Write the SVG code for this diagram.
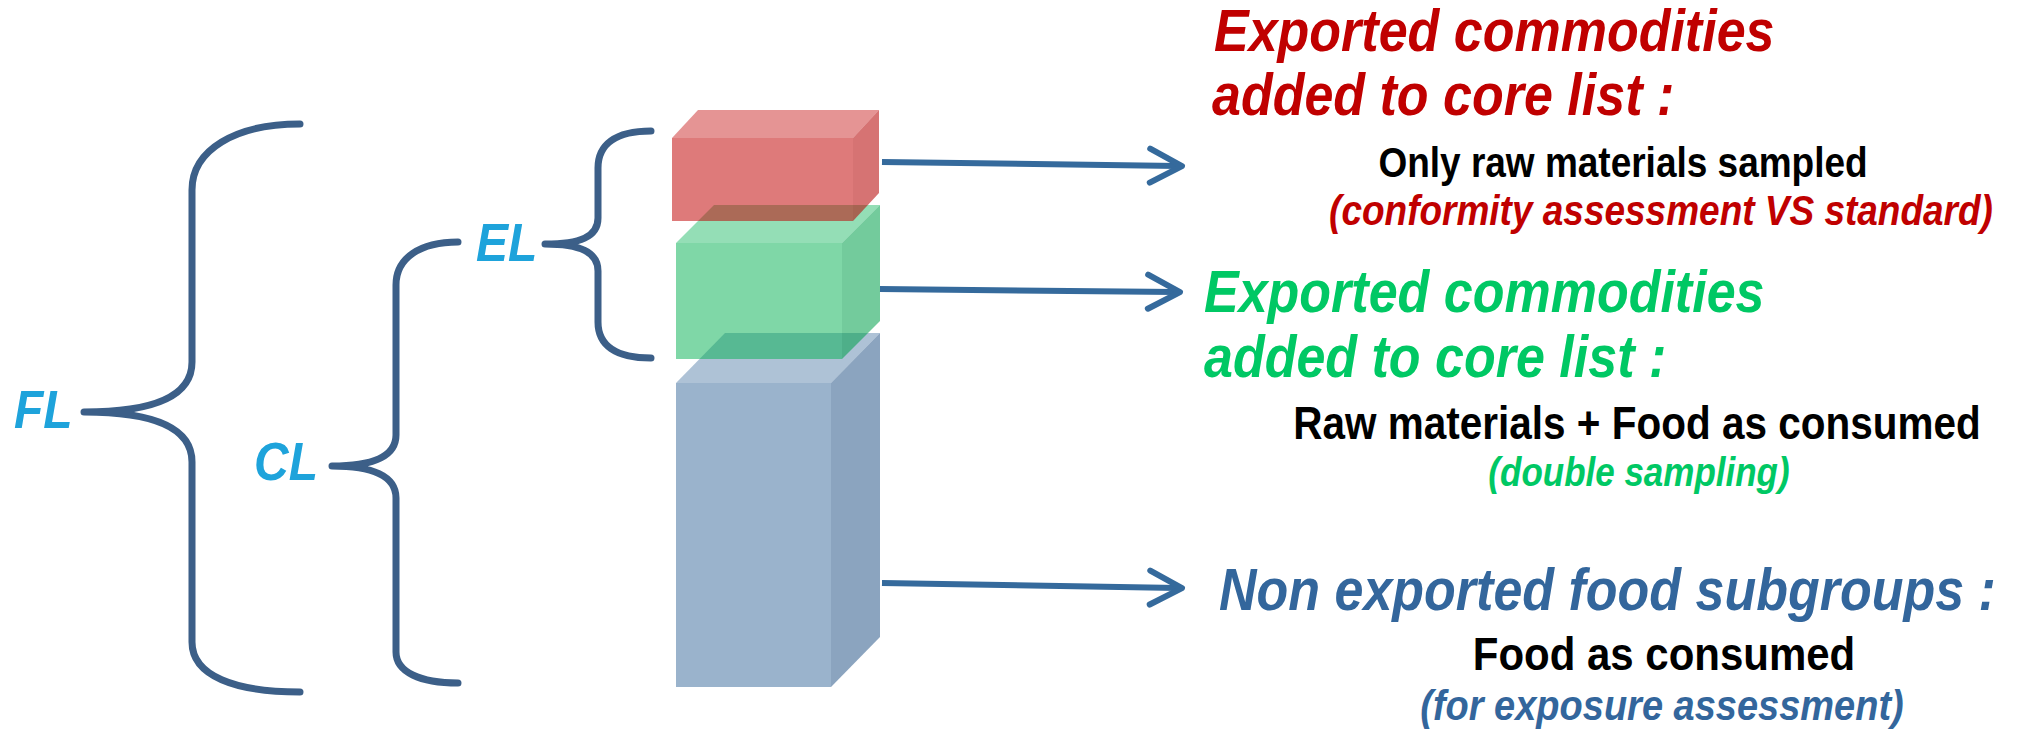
<svg xmlns="http://www.w3.org/2000/svg" width="2038" height="731" viewBox="0 0 2038 731">
<defs>
<style>
.brace{fill:none;stroke:#3c5f88;stroke-width:7;stroke-linecap:round;stroke-linejoin:round}
.lbl{font-family:"Liberation Sans",Arial,sans-serif;font-weight:bold;font-style:italic;font-size:48px;fill:#1ea3db}
.conn{fill:none;stroke:#356a9c;stroke-width:6;stroke-linecap:butt}
.h{font-family:"Liberation Sans",Arial,sans-serif;font-weight:bold;font-style:italic;font-size:52px}
.b{font-family:"Liberation Sans",Arial,sans-serif;font-weight:bold;font-size:38px;fill:#000;text-anchor:middle}
.p{font-family:"Liberation Sans",Arial,sans-serif;font-weight:bold;font-style:italic;font-size:36px;text-anchor:middle}
.red{fill:#c00000}.grn{fill:#00c864}.blu{fill:#33669c}
.rf{fill:rgb(192,0,0);opacity:.52}.rt{fill:rgb(192,0,0);opacity:.42}.rs{fill:rgb(180,0,0);opacity:.55}
.gf{fill:rgb(0,176,80);opacity:.5}.gt{fill:rgb(0,176,80);opacity:.42}.gs{fill:rgb(0,160,75);opacity:.55}
.bf{fill:rgb(61,109,157);opacity:.52}.bt{fill:rgb(61,109,157);opacity:.42}.bs{fill:rgb(55,98,145);opacity:.58}
</style>
<marker id="ah" markerUnits="userSpaceOnUse" markerWidth="44" markerHeight="44" refX="31" refY="22" orient="auto" overflow="visible">
<path d="M3,5 L35,22 L3,39" fill="none" stroke="#356a9c" stroke-width="6" stroke-linecap="round" stroke-linejoin="round"/>
</marker>
</defs>
<rect width="2038" height="731" fill="#fff"/>

<g id="FL">
<path class="brace" d="M300,124 C235,124 192,150 192,190 L192,362 C192,398 150,412 84,412 C150,412 192,426 192,462 L192,642 C192,676 235,692 300,692"/>
<text class="lbl" transform="translate(14,428) scale(1,1.1)">FL</text>
</g>
<g id="CL">
<path class="brace" d="M458,242 C420,242 396,258 396,285 L396,435 C396,457 372,466 332,466 C372,466 396,476 396,498 L396,652 C396,672 420,683 458,683"/>
<text class="lbl" transform="translate(254,480) scale(1,1.1)">CL</text>
</g>
<g id="EL">
<path class="brace" d="M651,131 C615,131 598,145 598,168 L598,218 C598,237 580,244 545,244 C580,244 598,252 598,271 L598,322 C598,345 615,358 651,358"/>
<text class="lbl" transform="translate(476,261) scale(1,1.1)">EL</text>
</g>

<g id="box-blue">
<polygon class="bf" points="676,383 831,383 831,687 676,687"/>
<polygon class="bt" points="676,383 725,333 880,333 831,383"/>
<polygon class="bs" points="831,383 880,333 880,637 831,687"/>
</g>
<g id="box-green">
<polygon class="gf" points="676,243 842,243 842,359 676,359"/>
<polygon class="gt" points="676,243 714,205 880,205 842,243"/>
<polygon class="gs" points="842,243 880,205 880,321 842,359"/>
</g>
<g id="box-red">
<polygon class="rf" points="672,138 853,138 853,221 672,221"/>
<polygon class="rt" points="672,138 698,110 879,110 853,138"/>
<polygon class="rs" points="853,138 879,110 879,193 853,221"/>
</g>

<g id="connectors">
<line class="conn" x1="882" y1="162" x2="1178" y2="166" marker-end="url(#ah)"/>
<line class="conn" x1="880" y1="289" x2="1176" y2="292" marker-end="url(#ah)"/>
<line class="conn" x1="882" y1="583" x2="1178" y2="588" marker-end="url(#ah)"/>
</g>

<g id="text-red">
<text class="h red" transform="translate(1214,51) scale(1,1.14)">Exported commodities</text>
<text class="h red" transform="translate(1212,115) scale(1,1.14)">added to core list :</text>
<text class="b" style="font-size:37px" transform="translate(1623,177) scale(1,1.14)">Only raw materials sampled</text>
<text class="p red" style="font-size:37px" transform="translate(1661,225) scale(1,1.14)">(conformity assessment VS standard)</text>
</g>
<g id="text-green">
<text class="h grn" transform="translate(1204,312) scale(1,1.14)">Exported commodities</text>
<text class="h grn" transform="translate(1204,377) scale(1,1.14)">added to core list :</text>
<text class="b" style="font-size:40.5px" transform="translate(1637,439) scale(1,1.12)">Raw materials + Food as consumed</text>
<text class="p grn" style="font-size:35px" transform="translate(1639,486) scale(1,1.14)">(double sampling)</text>
</g>
<g id="text-blue">
<text class="h blu" transform="translate(1219,610) scale(1,1.14)">Non exported food subgroups :</text>
<text class="b" style="font-size:42px" transform="translate(1664,670) scale(1,1.1)">Food as consumed</text>
<text class="p blu" style="font-size:38px" transform="translate(1662,720) scale(1,1.12)">(for exposure assessment)</text>
</g>
</svg>
